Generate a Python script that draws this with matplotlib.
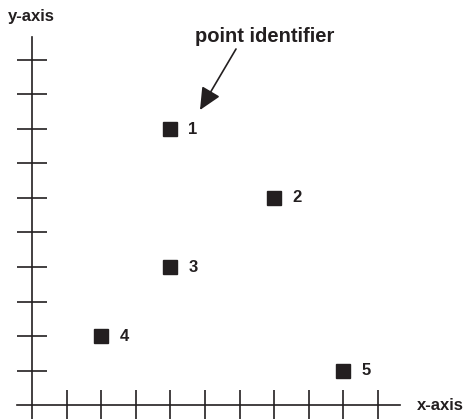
import matplotlib
matplotlib.use("Agg")
import matplotlib.pyplot as plt

# Data
point_ids = ["1", "2", "3", "4", "5"]
x_vals = [4, 7, 4, 2, 9]
y_vals = [8, 6, 4, 2, 1]
tick_positions = [1, 2, 3, 4, 5, 6, 7, 8, 9, 10]

plt.rcParams['font.family'] = ['Liberation Sans', 'DejaVu Sans']
ink = '#231f20'

W, H, DPI = 466, 419, 100
fig = plt.figure(figsize=(W / DPI, H / DPI), dpi=DPI)
ax = fig.add_axes([0, 0, 1, 1])

# pixel mapping: x_px = 32 + 34.6*x ; y_px(from top) = 405 - 34.5*y
sx, sy = 34.6, 34.5
x0, y0 = 32, 405
ax.set_xlim(-x0 / sx, (W - x0) / sx)
ax.set_ylim(-(H - y0) / sy, y0 / sy)
ax.patch.set_alpha(0)

for s in ['top', 'right']:
    ax.spines[s].set_visible(False)
ax.spines['left'].set_position(('data', 0))
ax.spines['bottom'].set_position(('data', 0))
ax.spines['left'].set_bounds(-(H - y0) / sy, (y0 - 37) / sy)
ax.spines['bottom'].set_bounds(-15 / sx, (400 - x0) / sx)
for s in ['left', 'bottom']:
    ax.spines[s].set_color(ink)
    ax.spines[s].set_linewidth(1.2)

ax.set_xticks(tick_positions)
ax.set_yticks(tick_positions)
ax.tick_params(axis='both', direction='inout', length=21.6, width=1.2,
               color=ink, labelbottom=False, labelleft=False)

ax.plot(x_vals, y_vals, linestyle='none', marker='s', markersize=9.5,
        color=ink, markeredgecolor=ink)
for pid, xv, yv in zip(point_ids, x_vals, y_vals):
    ax.annotate(pid, (xv, yv), xytext=(13, 0), textcoords='offset points',
                ha='left', va='center', fontsize=12, fontweight='bold', color=ink)

fig.text(265 / W, 1 - 36 / H, 'point identifier', ha='center', va='center',
         fontsize=14.5, fontweight='bold', color=ink)
ax.annotate('', xy=(200 / W, 1 - 110 / H), xycoords='figure fraction',
            xytext=(236 / W, 1 - 49 / H), textcoords='figure fraction',
            arrowprops=dict(arrowstyle='-|>,head_length=0.75,head_width=0.35',
                            color=ink, lw=1.2, mutation_scale=18,
                            shrinkA=0, shrinkB=0))

fig.text(8 / W, 1 - 16 / H, 'y-axis', ha='left', va='center',
         fontsize=12, fontweight='bold', color=ink)
fig.text(417 / W, 1 - 405 / H, 'x-axis', ha='left', va='center',
         fontsize=12, fontweight='bold', color=ink)

fig.savefig('out.png', dpi=DPI, facecolor='white')
